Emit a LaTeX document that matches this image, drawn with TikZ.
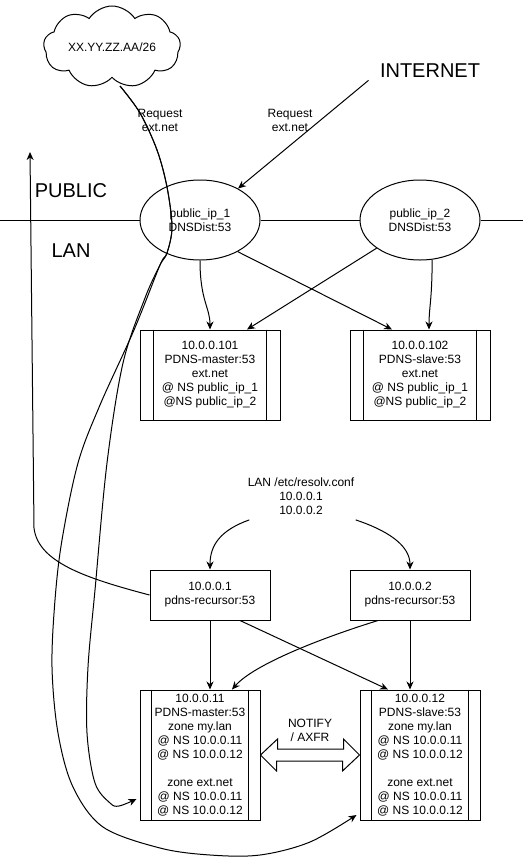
\documentclass[tikz,border=0pt]{standalone}
\usepackage{fontspec}
\setmainfont{Liberation Sans}
\usetikzlibrary{shapes.geometric,shapes.symbols,arrows.meta,calc}
\begin{document}
\begin{tikzpicture}[x=1pt,y=-1pt,line width=1pt,
  >={Stealth[length=8pt,width=7pt,inset=2.5pt]},
  every node/.style={font=\fontsize{12}{14}\selectfont,inner sep=0pt,align=center},
  bigtext/.style={font=\fontsize{20}{24}\selectfont},
  distnode/.style={draw,ellipse,minimum width=120pt,minimum height=80pt},
  pdnsbox/.style={draw,rectangle,minimum width=140pt,minimum height=90pt},
  zonebox/.style={draw,rectangle,minimum width=120pt,minimum height=130pt},
  recbox/.style={draw,rectangle,minimum width=120pt,minimum height=50pt},
  conn/.style={->}]
\useasboundingbox (0,0) rectangle (523,857);

% cloud and labels
\node[draw,cloud,cloud puffs=9,cloud puff arc=115,cloud ignores aspect,minimum width=137pt,minimum height=82pt] (cloud) at (112,47) {XX.YY.ZZ.AA/26};
\node[bigtext] (internet) at (430,71) {INTERNET};
\node[bigtext] (public) at (71,191) {PUBLIC};
\node[bigtext] (lan) at (71,251) {LAN};
\node (req1) at (160,120) {Request\\ext.net};
\node (req2) at (290,120) {Request\\ext.net};

% dnsdist ellipses
\node[distnode] (e1) at (200,220) {public\_ip\_1\\DNSDist:53};
\node[distnode] (e2) at (420,220) {public\_ip\_2\\DNSDist:53};
\coordinate (lineL) at (0,220);
\coordinate (lineR) at (523,220);
\draw (lineL) -- (e1.west);
\draw (e1.east) -- (e2.west);
\draw (e2.east) -- (lineR);

% public pdns boxes
\node[pdnsbox] (b1) at (210,375) {10.0.0.101\\PDNS-master:53\\ext.net\\@ NS public\_ip\_1\\@NS public\_ip\_2};
\node[pdnsbox] (b2) at (420,375) {10.0.0.102\\PDNS-slave:53\\ext.net\\@ NS public\_ip\_1\\@NS public\_ip\_2};

% resolv.conf text and recursors
\node (lanconf) at (301,496) {LAN /etc/resolv.conf\\10.0.0.1\\10.0.0.2};
\node[recbox] (r1) at (210,595) {10.0.0.1\\pdns-recursor:53};
\node[recbox] (r2) at (410,595) {10.0.0.2\\pdns-recursor:53};

% lan zone boxes
\node[zonebox] (bL) at (200,755) {10.0.0.11\\PDNS-master:53\\zone my.lan\\@ NS 10.0.0.11\\@ NS 10.0.0.12\\[14pt]zone ext.net\\@ NS 10.0.0.11\\@ NS 10.0.0.12};
\node[zonebox] (bR) at (420,755) {10.0.0.12\\PDNS-slave:53\\zone my.lan\\@ NS 10.0.0.11\\@ NS 10.0.0.12\\[14pt]zone ext.net\\@ NS 10.0.0.11\\@ NS 10.0.0.12};

% inner lines of process boxes
\foreach \b/\o in {b1/14,b2/14,bL/12,bR/12}{
  \draw ([xshift=\o pt]\b.north west) -- ([xshift=\o pt]\b.south west);
  \draw ([xshift=-\o pt]\b.north east) -- ([xshift=-\o pt]\b.south east);
}

% NOTIFY / AXFR double arrow
\node (notify) at (310,730) {NOTIFY\\/ AXFR};
\draw[line join=miter] (bL.east) -- ++(17,-16) -- ++(0,10) -- ++(66,0) -- ++(0,-10) -- (bR.west)
  -- ++(-17,16) -- ++(0,-10) -- ++(-66,0) -- ++(0,10) -- cycle;

% connectors
\draw[conn] ($(internet.south west)+(-11,2)$) -- (e1);
\draw[conn] (e1.south) .. controls +(0,40) and +(0,-22) .. (b1.north);
\draw[conn] (e1.-40) -- ([xshift=-28pt]b2.north);
\draw[conn] (e2.213) -- ([xshift=37pt]b1.north);
\draw[conn] (e2.-73) .. controls +(0,40) and +(0,-22) .. ([xshift=9pt]b2.north);

\draw[conn] ($(lanconf.south west)+(2,5)$) .. controls +(-28,10) and +(0,-25) .. (r1.north);
\draw[conn] ($(lanconf.south east)+(1,5)$) .. controls +(30,10) and +(0,-25) .. (r2.north);

\draw[conn] (r1.south) -- ([xshift=10pt]bL.north);
\draw[conn] ([xshift=30pt]r1.south) -- ([xshift=-32pt]bR.north);
\draw[conn] ([xshift=-32pt]r2.south) .. controls +(-58,18) and +(22,-25) .. ([xshift=32pt]bL.north);
\draw[conn] (r2.south) -- ([xshift=-10pt]bR.north);

% recursor back up to public
\coordinate (uptip) at (30,152);
\draw[conn] (r1.west) .. controls (85,578) and (38,562) .. (34,528) -- (uptip);

% cloud curves to lan zone boxes
\coordinate (cstart) at (120,86);
\draw[conn] plot[smooth,tension=0.55] coordinates {(cstart) (140,113) (157,150) (167,187) (172,227) (167,253) (160,265) (134,330) (100,405) (78,463) (62,540) (55,600) (52,667) (58,733) (73,787) (103,827) (160,848) (210,855) (260,855) (310,842) ($(bR.west)+(-3,60)$)};
\draw[conn] plot[smooth,tension=0.55] coordinates {(cstart) (140,113) (157,150) (167,187) (172,227) (167,253) (160,265) (145,298) (123,363) (107,463) (95,590) (88,667) (87,733) (95,783) (110,803) (119,806) ($(bL.west)+(-3,44)$)};
\end{tikzpicture}
\end{document}
